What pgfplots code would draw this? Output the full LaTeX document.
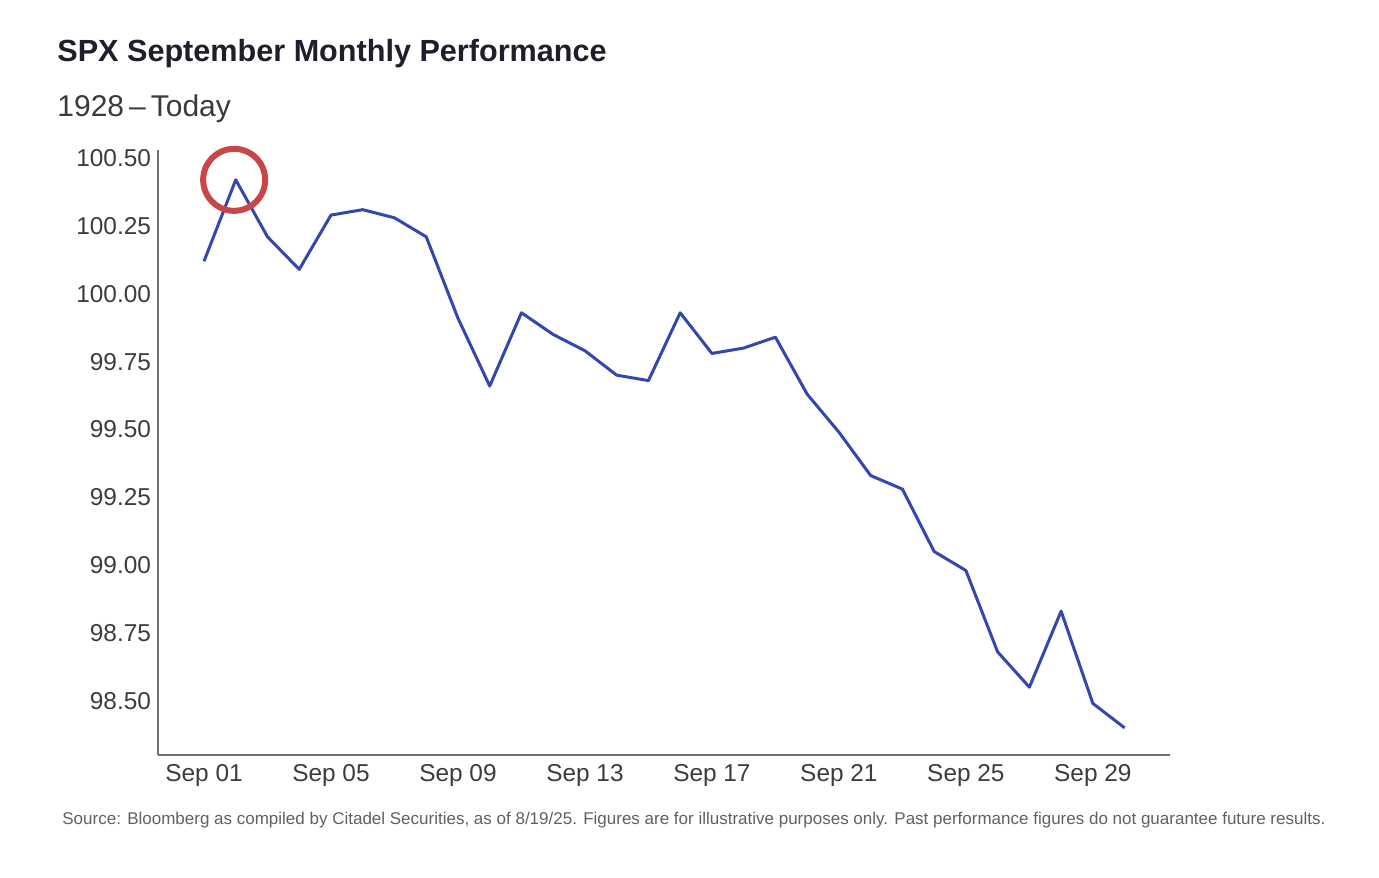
\documentclass[border=0pt]{standalone}
\usepackage{pgfplots}
\pgfplotsset{compat=1.18}
\usepackage{fontspec}
\setmainfont{Liberation Sans}

\definecolor{titlecol}{HTML}{1E1E2C}
\definecolor{subcol}{HTML}{3A3A3A}
\definecolor{tickcol}{HTML}{3C3C3C}
\definecolor{axiscol}{HTML}{707070}
\definecolor{linecol}{HTML}{3447AE}
\definecolor{circcol}{HTML}{C8464A}
\definecolor{notecol}{HTML}{606060}

% Average SPX path through September (index, day of month)
\pgfplotstableread{
day value
1  100.12
2  100.42
3  100.21
4  100.09
5  100.29
6  100.31
7  100.28
8  100.21
9  99.91
10 99.66
11 99.93
12 99.85
13 99.79
14 99.70
15 99.68
16 99.93
17 99.78
18 99.80
19 99.84
20 99.63
21 99.49
22 99.33
23 99.28
24 99.05
25 98.98
26 98.68
27 98.55
28 98.83
29 98.49
30 98.40
}\spxsep

\begin{document}
\begin{tikzpicture}
\path[use as bounding box] (0,0) rectangle (689.5pt,438.5pt);

\node[anchor=base west, inner sep=0pt, text=titlecol, font=\fontsize{15.3}{18}\selectfont\bfseries]
  at (28.5pt,407.5pt) {SPX September Monthly Performance};
\node[anchor=base west, inner sep=0pt, text=subcol, font=\fontsize{15}{18}\selectfont]
  at (28.5pt,380pt) {1928\,–\,Today};

\begin{axis}[
  at={(79pt,61pt)}, anchor=south west,
  scale only axis, width=506pt, height=302.5pt,
  xmin=-0.449, xmax=31.43, ymin=98.30, ymax=100.53,
  axis x line*=bottom, axis y line*=left,
  axis line style={draw=axiscol, line width=0.9pt, -},
  major tick length=0pt,
  xtick={1,5,9,13,17,21,25,29},
  xticklabels={Sep 01,Sep 05,Sep 09,Sep 13,Sep 17,Sep 21,Sep 25,Sep 29},
  ytick={98.5,98.75,...,100.5},
  yticklabel style={/pgf/number format/fixed, /pgf/number format/fixed zerofill, /pgf/number format/precision=2},
  /pgf/number format/assume math mode=true,
  ticklabel style={font=\fontsize{12.2}{14}\selectfont, text=tickcol},
  xticklabel style={yshift=-1pt},
  clip=false,
]
\addplot[linecol, line width=1.5pt, line join=round] table[x=day, y=value] {\spxsep};
% highlight the early-month peak
\addplot[only marks, mark=o, mark size=15.5pt, mark options={draw=circcol, line width=3pt}]
  coordinates {(1.95,100.42)};
\end{axis}

\node[anchor=base west, inner sep=0pt, text=notecol, font=\fontsize{8.5}{10}\selectfont]
  at (31pt,26.5pt) {Source: Bloomberg as compiled by Citadel Securities, as of 8/19/25. Figures are for illustrative purposes only. Past performance figures do not guarantee future results.};
\end{tikzpicture}
\end{document}
